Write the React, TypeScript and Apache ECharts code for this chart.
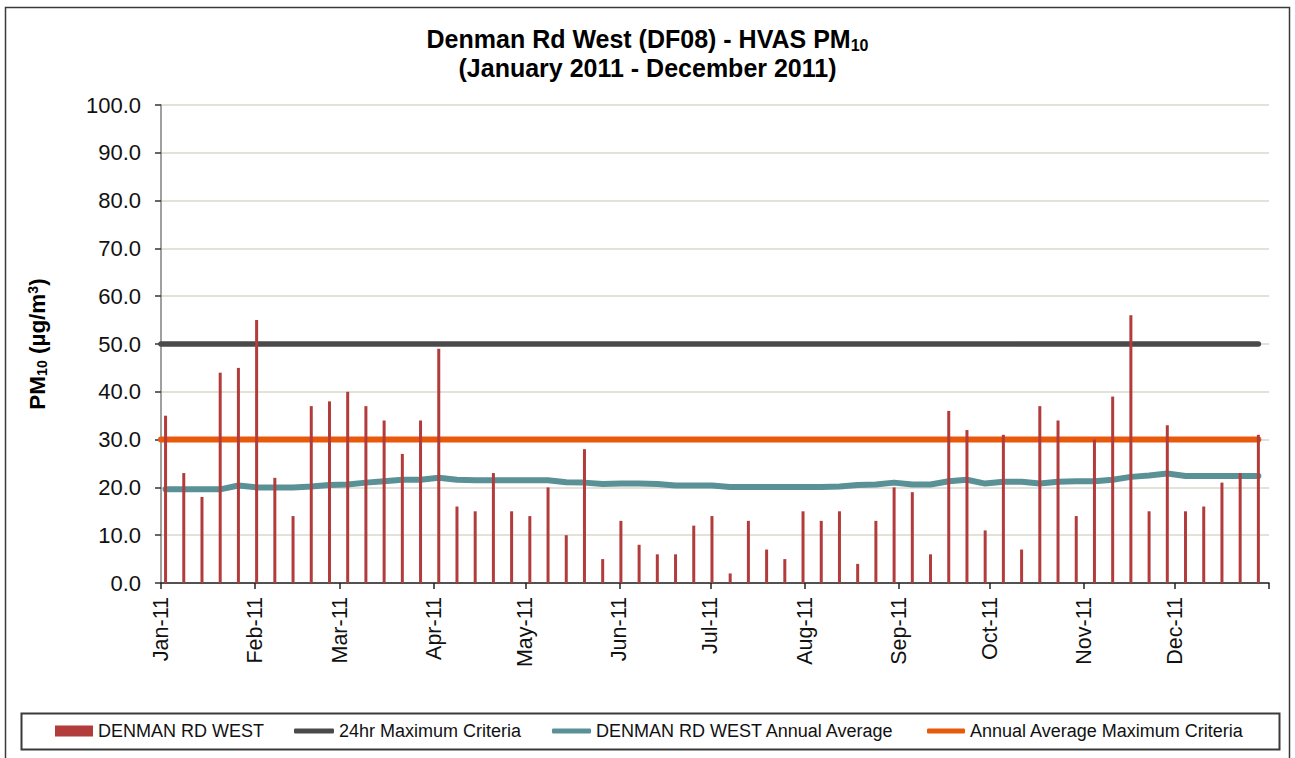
import React, { useEffect, useRef } from "react";
import * as echarts from "echarts";

const SAMPLE_DATES = [
  "2011-01-02", "2011-01-08", "2011-01-14", "2011-01-20", "2011-01-26",
  "2011-02-01", "2011-02-07", "2011-02-13", "2011-02-19", "2011-02-25",
  "2011-03-03", "2011-03-09", "2011-03-15", "2011-03-21", "2011-03-27",
  "2011-04-02", "2011-04-08", "2011-04-14", "2011-04-20", "2011-04-26",
  "2011-05-02", "2011-05-08", "2011-05-14", "2011-05-20", "2011-05-26",
  "2011-06-01", "2011-06-07", "2011-06-13", "2011-06-19", "2011-06-25",
  "2011-07-01", "2011-07-07", "2011-07-13", "2011-07-19", "2011-07-25", "2011-07-31",
  "2011-08-06", "2011-08-12", "2011-08-18", "2011-08-24", "2011-08-30",
  "2011-09-05", "2011-09-11", "2011-09-17", "2011-09-23", "2011-09-29",
  "2011-10-05", "2011-10-11", "2011-10-17", "2011-10-23", "2011-10-29",
  "2011-11-04", "2011-11-10", "2011-11-16", "2011-11-22", "2011-11-28",
  "2011-12-04", "2011-12-10", "2011-12-16", "2011-12-22", "2011-12-28",
];

const PM10_VALUES = [
  35, 23, 18, 44, 45,
  55, 22, 14, 37, 38,
  40, 37, 34, 27, 34,
  49, 16, 15, 23, 15,
  14, 20, 10, 28, 5,
  13, 8, 6, 6, 12,
  14, 2, 13, 7, 5, 15,
  13, 15, 4, 13, 20,
  19, 6, 36, 32, 11,
  31, 7, 37, 34, 14,
  30, 39, 56, 15, 33,
  15, 16, 21, 23, 31,
];

const ANNUAL_AVERAGE = [
  19.6, 19.6, 19.6, 19.6, 20.4,
  20.0, 20.0, 20.0, 20.2, 20.5,
  20.6, 21.0, 21.3, 21.6, 21.6,
  22.0, 21.6, 21.5, 21.5, 21.5,
  21.5, 21.5, 21.1, 21.0, 20.7,
  20.8, 20.8, 20.7, 20.4, 20.4,
  20.4, 20.1, 20.1, 20.1, 20.1, 20.1,
  20.1, 20.2, 20.5, 20.6, 21.0,
  20.6, 20.6, 21.3, 21.6, 20.8,
  21.2, 21.2, 20.8, 21.2, 21.3,
  21.3, 21.6, 22.2, 22.5, 22.9,
  22.4, 22.4, 22.4, 22.4, 22.4,
];

const CRITERIA_24HR = 50;
const CRITERIA_ANNUAL = 30;
const CRITERIA_START = "2011-01-01";
const CRITERIA_END = "2011-12-28";

const MONTH_STARTS = [
  "2011-01-01", "2011-02-01", "2011-03-01", "2011-04-01", "2011-05-01", "2011-06-01",
  "2011-07-01", "2011-08-01", "2011-09-01", "2011-10-01", "2011-11-01", "2011-12-01",
];
const MONTH_LABELS = [
  "Jan-11", "Feb-11", "Mar-11", "Apr-11", "May-11", "Jun-11",
  "Jul-11", "Aug-11", "Sep-11", "Oct-11", "Nov-11", "Dec-11",
];
const AXIS_END = "2012-01-01";

const Y_MIN = 0;
const Y_MAX = 100;
const Y_STEP = 10;

const FONT = "'Liberation Sans', Arial, sans-serif";
const DAY_MS = 24 * 3600 * 1000;

// day offset from the first day of the axis (a date axis measured in days)
function dayOf(d: string): number {
  const [y, m, day] = d.split("-").map(Number);
  const [y0, m0, d0] = MONTH_STARTS[0].split("-").map(Number);
  return Math.round((Date.UTC(y, m - 1, day) - Date.UTC(y0, m0 - 1, d0)) / DAY_MS);
}

export default function App() {
  const ref = useRef<HTMLDivElement>(null);

  useEffect(() => {
    document.body.style.margin = "0";
    if (!ref.current) return;
    const chart = echarts.init(ref.current, undefined, { renderer: "svg" });

    const monthDays = MONTH_STARTS.map(dayOf);
    const endDay = dayOf(AXIS_END);
    const labelMap: Record<number, string> = {};
    monthDays.forEach((t, i) => (labelMap[t] = MONTH_LABELS[i]));

    // each sample is drawn in the middle of its day slot
    const barData = SAMPLE_DATES.map((d, i) => [dayOf(d) + 0.5, PM10_VALUES[i]]);
    const avgData = SAMPLE_DATES.map((d, i) => [dayOf(d) + 0.5, ANNUAL_AVERAGE[i]]);
    const c24 = [
      [dayOf(CRITERIA_START), CRITERIA_24HR],
      [dayOf(CRITERIA_END) + 0.5, CRITERIA_24HR],
    ];
    const cAnn = [
      [dayOf(CRITERIA_START), CRITERIA_ANNUAL],
      [dayOf(CRITERIA_END) + 0.5, CRITERIA_ANNUAL],
    ];

    const legendText = { fontFamily: FONT, fontSize: 18, color: "#111" };
    const legendCommon = { top: 722, padding: 0, textStyle: legendText, selectedMode: false };

    chart.setOption({
      animation: false,
      textStyle: { fontFamily: FONT },
      title: {
        left: "center",
        top: 19,
        text: "Denman Rd West (DF08) - HVAS PM{s|10}\n(January 2011 - December 2011)",
        textStyle: {
          fontFamily: FONT,
          fontSize: 25,
          fontWeight: "bold",
          color: "#000",
          lineHeight: 29,
          rich: {
            s: { fontFamily: FONT, fontSize: 16, fontWeight: "bold", color: "#000", verticalAlign: "bottom", lineHeight: 18 },
          },
        },
      },
      graphic: [
        {
          type: "rect",
          shape: { x: 5.5, y: 7.5, width: 1284, height: 770 },
          style: { fill: "none", stroke: "#3a3a3a", lineWidth: 1.5 },
          silent: true,
          z: -10,
        },
        {
          type: "rect",
          shape: { x: 21.5, y: 713.5, width: 1258, height: 36 },
          style: { fill: "none", stroke: "#3a3a3a", lineWidth: 2 },
          silent: true,
        },
      ],
      legend: [
        { ...legendCommon, left: 55, data: [{ name: "DENMAN RD WEST", icon: "rect" }], itemWidth: 38, itemHeight: 11 },
        { ...legendCommon, left: 294, data: [{ name: "24hr Maximum Criteria", icon: "roundRect" }], itemWidth: 40, itemHeight: 5 },
        { ...legendCommon, left: 552, data: [{ name: "DENMAN RD WEST Annual Average", icon: "roundRect" }], itemWidth: 39, itemHeight: 5 },
        { ...legendCommon, left: 927, data: [{ name: "Annual Average Maximum Criteria", icon: "roundRect" }], itemWidth: 38, itemHeight: 5 },
      ],
      grid: { left: 161, right: 26, top: 105, bottom: 175, containLabel: false },
      xAxis: {
        type: "value",
        min: 0,
        max: endDay,
        axisLine: { show: true, onZero: false, lineStyle: { color: "#222", width: 1.5 } },
        axisTick: {
          show: true,
          length: 6,
          lineStyle: { color: "#222", width: 1.5 },
          customValues: [...monthDays, endDay],
        },
        axisLabel: {
          rotate: 90,
          margin: 14,
          fontSize: 21.5,
          color: "#111",
          fontFamily: FONT,
          customValues: monthDays,
          formatter: (v: number) => labelMap[v] ?? "",
        },
        splitLine: { show: false },
      },
      yAxis: {
        type: "value",
        min: Y_MIN,
        max: Y_MAX,
        interval: Y_STEP,
        name: "{b|PM}{s|10}{b| (µg/m}{p|3}{b|)}",
        nameLocation: "middle",
        nameRotate: 90,
        nameGap: 112,
        nameTextStyle: {
          rich: {
            b: { fontFamily: FONT, fontSize: 22.5, fontWeight: "bold", color: "#000" },
            s: { fontFamily: FONT, fontSize: 14, fontWeight: "bold", color: "#000", verticalAlign: "bottom", lineHeight: 16 },
            p: { fontFamily: FONT, fontSize: 14, fontWeight: "bold", color: "#000", verticalAlign: "top", lineHeight: 16 },
          },
        },
        axisLine: { show: true, lineStyle: { color: "#808080", width: 1.5 } },
        axisTick: { show: true, length: 6, lineStyle: { color: "#333", width: 1.5 } },
        axisLabel: {
          margin: 20,
          fontSize: 22,
          color: "#111",
          fontFamily: FONT,
          formatter: (v: number) => v.toFixed(1),
        },
        splitLine: { show: true, lineStyle: { color: "#D9D9CE", width: 1.5 } },
      },
      series: [
        {
          name: "24hr Maximum Criteria",
          type: "line",
          data: c24,
          showSymbol: false,
          symbol: "none",
          lineStyle: { color: "#4A4A4A", width: 5.5, cap: "round" },
          itemStyle: { color: "#4A4A4A" },
          z: 2,
        },
        {
          name: "DENMAN RD WEST Annual Average",
          type: "line",
          data: avgData,
          showSymbol: false,
          symbol: "none",
          lineStyle: { color: "#5A9196", width: 6, cap: "round", join: "round" },
          itemStyle: { color: "#5A9196" },
          z: 2,
        },
        {
          name: "Annual Average Maximum Criteria",
          type: "line",
          data: cAnn,
          showSymbol: false,
          symbol: "none",
          lineStyle: { color: "#E8590C", width: 6, cap: "round" },
          itemStyle: { color: "#E8590C" },
          z: 2,
        },
        {
          name: "DENMAN RD WEST",
          type: "bar",
          data: barData,
          barWidth: 3,
          itemStyle: { color: "#B23B3B" },
          z: 4,
        },
      ],
    });

    return () => chart.dispose();
  }, []);

  return <div ref={ref} style={{ width: 1295, height: 758 }} />;
}
